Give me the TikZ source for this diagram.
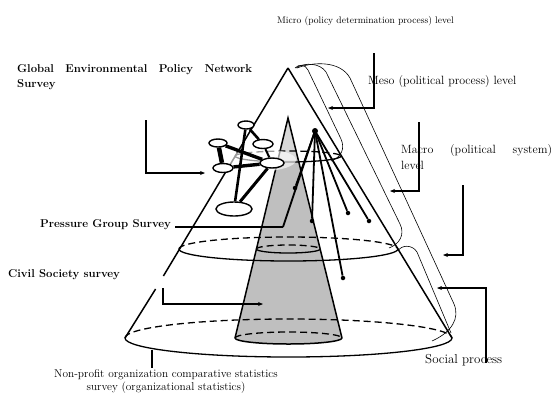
\documentclass[tikz,border=0pt]{standalone}
\usepackage{tikz}
\usetikzlibrary{arrows.meta,shapes,calc,positioning}
\pgfdeclarelayer{conelayer}
\pgfdeclarelayer{linklayer}
\pgfsetlayers{conelayer,linklayer,main}

\begin{document}
\begin{tikzpicture}[x=1bp, y=-1bp,
coneline/.style={line width=1.5bp},
backarc/.style={line width=1.3bp, dash pattern=on 7bp off 4bp},
frontarc/.style={line width=1.3bp},
shellline/.style={line width=0.6bp},
netnode/.style={ellipse, draw, line width=1.4bp, fill=white, inner sep=0pt},
netlink/.style={line width=2.6bp},
hubline/.style={line width=1.8bp},
dotnode/.style={circle, fill, inner sep=0pt, minimum size=4.5bp},
callout/.style={line width=1.1bp, -{Stealth[length=5bp,width=4bp]}},
levellabel/.style={font=\fontsize{12}{16}\selectfont, inner sep=0pt},
surveylabel/.style={font=\bfseries\fontsize{11.4}{15}\selectfont, inner sep=0pt}
]
\useasboundingbox (0,0) rectangle (552,392);
% Cone points
\coordinate (apex) at (288,68);
\coordinate (bl) at (125,338);
\coordinate (br) at (452,338);
\coordinate (gapA) at (163.4,276);
\coordinate (gapB) at (155.6,289);
\coordinate (iapex) at (288,118);
\coordinate (ibl) at (235,338);
\coordinate (ibr) at (342,338);
\begin{pgfonlayer}{conelayer}
% Inner cone
\fill[gray!50] (iapex) -- (ibl) arc[start angle=180, end angle=360, x radius=53.5bp, y radius=6bp] -- cycle;
\fill[white, opacity=0.4] (iapex) -- (277.8,160) -- (298.2,160) -- cycle;
% Outer cone
\draw[coneline] (apex) -- (gapA);
\draw[coneline] (gapB) -- (bl);
\draw[coneline] (apex) -- (br);
% Levels
\draw[backarc] (bl) arc[start angle=180, end angle=0, x radius=163.5bp, y radius=19bp];
\draw[frontarc] (bl) arc[start angle=180, end angle=360, x radius=163.5bp, y radius=19bp];
\draw[backarc] (178.9,249) arc[start angle=180, end angle=0, x radius=109.5bp, y radius=12bp];
\draw[frontarc] (178.9,249) arc[start angle=180, end angle=360, x radius=109.5bp, y radius=12bp];
\draw[backarc] (235,156) arc[start angle=180, end angle=0, x radius=53bp, y radius=5bp];
\draw[frontarc] (235,156) arc[start angle=180, end angle=360, x radius=53bp, y radius=6bp];
\draw[backarc] (ibl) arc[start angle=180, end angle=0, x radius=53.5bp, y radius=6bp];
\draw[coneline] (ibl) arc[start angle=180, end angle=360, x radius=53.5bp, y radius=6bp];
\draw[backarc] (256.3,249) arc[start angle=180, end angle=0, x radius=32bp, y radius=4bp];
\draw[frontarc] (256.3,249) arc[start angle=180, end angle=360, x radius=32bp, y radius=4bp];
\draw[coneline] (ibl) -- (iapex) -- (ibr);
% Highlight round the network
\fill[white, opacity=0.6] (262,160) ellipse [x radius=34bp, y radius=11bp];
\end{pgfonlayer}
% Network
\node[netnode, minimum width=16bp, minimum height=8bp] (n1) at (246,125) {};
\node[netnode, minimum width=18bp, minimum height=8bp] (n2) at (218,143) {};
\node[netnode, minimum width=20bp, minimum height=9bp] (n3) at (263,144) {};
\node[netnode, minimum width=20bp, minimum height=9bp] (n4) at (223,168) {};
\node[netnode, minimum width=24bp, minimum height=10bp] (n5) at (272,163) {};
\node[netnode, minimum width=36bp, minimum height=14bp] (n6) at (234,209) {};
\begin{pgfonlayer}{linklayer}
\draw[netlink, line width=4.5bp] (n2) -- (n4);
\draw[netlink, line width=3.4bp] (n2) -- (n5);
\draw[netlink, line width=3.4bp] (n4) -- (n5);
\draw[netlink] (n1) -- (n3);
\draw[netlink] (n1) -- (n6);
\draw[netlink, line width=3bp] (n5) -- (n6);
\draw[netlink, line width=2bp] (n3) -- (n5);
\end{pgfonlayer}
% Hub and actors
\node[dotnode, minimum size=6bp] (hub) at (315,131) {};
\node[dotnode] (d1) at (295,188) {};
\node[dotnode] (d2) at (312,221) {};
\node[dotnode] (d3) at (348,213) {};
\node[dotnode] (d4) at (369,221) {};
\node[dotnode] (d5) at (343,278) {};
\coordinate (pgfoot) at (283,227);
\foreach \d in {d1,d2,d3,d4,d5,pgfoot}
  \draw[hubline] (hub.center) -- (\d);
% Level shells
\draw[shellline] (295,68) .. controls (299,64) and (305,64) .. (308,70) -- (341,139)
  .. controls (345,148) and (342,157) .. (331,161);
\draw[shellline] (296,68) .. controls (305,62) and (320,63) .. (326,72) -- (400,224)
  .. controls (405,234) and (400,244) .. (389,248);
\draw[shellline] (297,68) .. controls (312,62) and (340,60) .. (350,78) -- (454,304)
  .. controls (460,318) and (452,332) .. (432,341);
\draw[shellline] (398,251) .. controls (401,245) and (412,244) .. (417,252) -- (451,333);
% Labels
\node[levellabel, font=\fontsize{9.6}{11}\selectfont, anchor=base west] (microlbl) at (277,23) {Micro (policy determination process) level};
\node[levellabel, anchor=base west] (mesolbl) at (368,84) {Meso (political process) level};
\node[levellabel, anchor=north west, text width=151bp, align=left] (macrolbl) at (401,144) {Macro\hfill(political\hfill system)\\level};
\node[levellabel, font=\fontsize{13}{15}\selectfont, anchor=base west] (sociallbl) at (425,363) {Social process};
\node[levellabel, font=\fontsize{11.4}{13.5}\selectfont, anchor=north, align=center] (nplbl) at (166,369) {Non-profit organization comparative statistics\\survey (organizational statistics)};
\node[surveylabel, anchor=north west, text width=235bp, align=left] (geplbl) at (17,64) {Global\hfill Environmental\hfill Policy\hfill Network\\Survey};
\node[surveylabel, anchor=base west] (pglbl) at (40,227) {Pressure Group Survey};
\node[surveylabel, anchor=base west] (cslbl) at (8,277) {Civil Society survey};
% Callouts
\coordinate (micro0) at (374,53);   \coordinate (micro1) at (328,108);
\coordinate (meso0) at (419,122);   \coordinate (meso1) at (390,191);
\coordinate (macro0) at (463,185);  \coordinate (macro1) at (443,255);
\coordinate (social0) at (486,363); \coordinate (social1) at (437,288);
\coordinate (gep0) at (146,120);    \coordinate (gep1) at (205,173);
\coordinate (cs0) at (163,288);     \coordinate (cs1) at (263,304);
\coordinate (np0) at (152,350);     \coordinate (np1) at (152,368);
\draw[callout] (micro0) |- (micro1);
\draw[callout] (meso0) |- (meso1);
\draw[callout] (macro0) |- (macro1);
\draw[callout] (social0) |- (social1);
\draw[callout] (gep0) |- (gep1);
\draw[callout] (cs0) |- (cs1);
\draw[line width=1.4bp] (np0) -- (np1);
\draw[line width=1.4bp] ([xshift=4bp]pglbl.base east) -- (pgfoot);
\end{tikzpicture}
\end{document}
